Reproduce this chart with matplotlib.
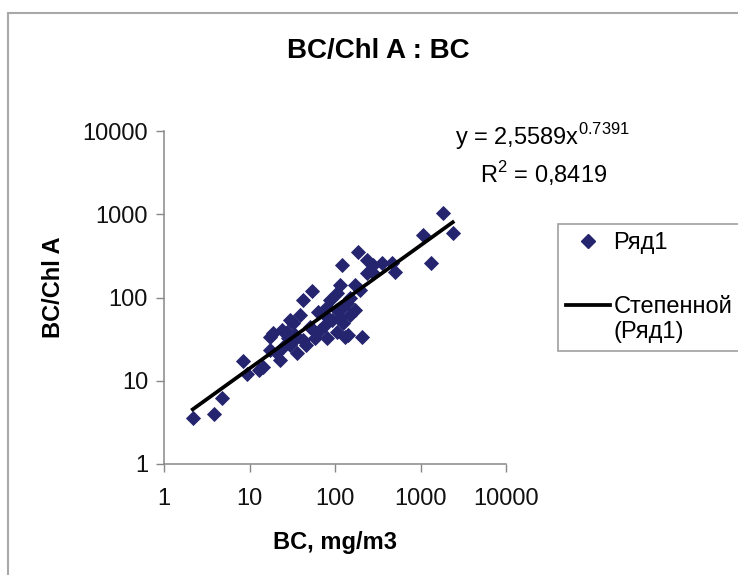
import numpy as np
import matplotlib
matplotlib.use("Agg")
import matplotlib.pyplot as plt
from matplotlib.lines import Line2D
from matplotlib.patches import Rectangle
from matplotlib.legend_handler import HandlerLine2D

plt.rcParams['font.family'] = ['Liberation Sans', 'DejaVu Sans']
plt.rcParams['mathtext.fontset'] = 'custom'
plt.rcParams['mathtext.rm'] = 'Liberation Sans'

# BC, mg/m3
bc = [2.17, 3.88, 4.73, 8.46, 9.27, 12.9, 14.5, 17.6, 20.8, 19.0, 22.7, 23.8,
      24.9, 27.2, 29.8, 31.2, 32.5, 35.6, 42.6, 42.6, 51.0, 53.4, 58.3, 66.8,
      80.0, 80.0, 91.5, 104.7, 104.7, 104.7, 114.4, 114.4, 119.8, 125, 125,
      130.9, 137, 143, 149.8, 171.4, 187.4, 205, 234.8, 234.8, 280.5, 280.5,
      351.7, 460, 503, 1062, 1316, 1849, 2382, 39, 63.3, 76.4, 45.8, 150, 196,
      28.2, 17.4, 34.0, 76.4, 55.3, 87.4, 171, 29.8]
# BC/Chl A
ratio = [3.54, 3.95, 6.15, 17.4, 12.05, 13.5, 14.7, 33.8, 21.4, 37.2, 17.8,
         40.7, 25.6, 38.8, 53.7, 29.5, 49.0, 21.4, 93.3, 30.9, 44.6, 119.7,
         32.4, 40.7, 77.5, 32.4, 53.7, 112.3, 70.8, 38.8, 141, 56.2, 245.7,
         49.0, 77.5, 33.8, 85.2, 35.5, 97.8, 141, 355, 33.8, 282, 195.3, 245.7,
         195.3, 257.6, 257.6, 204, 563, 257.6, 1026, 591, 61.6, 67, 46.7, 26.9,
         61.6, 123, 32.6, 23.4, 35.5, 61.6, 40.7, 93.3, 70.8, 26.9]

# power trendline shown on the chart
coef_a = 2.5589
coef_b = 0.7391
r2 = 0.8419

ticks = [1, 10, 100, 1000, 10000]
tick_labels = ['1', '10', '100', '1000', '10000']

W, H = 738, 575
fig = plt.figure(figsize=(W / 100, H / 100), dpi=100)

# chart frame (Excel chart area border)
fig.patches.append(Rectangle((8 / W, -0.1), 1.2, 1 - 13 / H + 0.1,
                             transform=fig.transFigure, fill=False,
                             edgecolor='#a8a8a8', linewidth=1.5))

ax = fig.add_axes([164 / W, 1 - 464 / H, (506 - 164) / W, (464 - 131) / H])
ax.set_xscale('log')
ax.set_yscale('log')
ax.set_xlim(1, 10000)
ax.set_ylim(1, 10000)

navy = '#25256f'
ax.plot(bc, ratio, linestyle='none', marker='D', markersize=7.0,
        color=navy, markeredgewidth=0.6, zorder=3)

xs = np.geomspace(min(bc), max(bc), 50)
ax.plot(xs, coef_a * xs ** coef_b, color='black', linewidth=2.7, zorder=4)

ax.set_xticks(ticks)
ax.set_xticklabels(tick_labels)
ax.set_yticks(ticks)
ax.set_yticklabels(tick_labels)
ax.minorticks_off()
ax.tick_params(axis='both', direction='out', length=5.5, width=1,
               color='#888888', labelsize=17, labelcolor='#111111')
ax.tick_params(axis='x', pad=12)
ax.tick_params(axis='y', pad=6)
for s in ['top', 'right']:
    ax.spines[s].set_visible(False)
for s in ['left', 'bottom']:
    ax.spines[s].set_color('#888888')
    ax.spines[s].set_linewidth(1.1)

fig.text(378 / W, 1 - 51 / H, 'BC/Chl A : BC', ha='center', va='center',
         fontsize=20, fontweight='bold')
fig.text(335 / W, 1 - 542 / H, 'BC, mg/m3', ha='center', va='center',
         fontsize=17, fontweight='bold')
fig.text(53 / W, 1 - 287 / H, 'BC/Chl A', ha='center', va='center',
         rotation=90, fontsize=17, fontweight='bold')

fig.text(455 / W, 1 - 145 / H,
         'y = 2,5589x$^{\\mathregular{%s}}$' % coef_b,
         ha='left', va='baseline', fontsize=17)
fig.text(480 / W, 1 - 183 / H,
         'R$^{\\mathregular{2}}$ = ' + str(r2).replace('.', ','),
         ha='left', va='baseline', fontsize=17)


class TopLineHandler(HandlerLine2D):
    # put the legend line next to the first text line, as Excel does
    def create_artists(self, legend, orig_handle, xdescent, ydescent,
                       width, height, fontsize, trans):
        arts = super().create_artists(legend, orig_handle, xdescent, ydescent,
                                      width, height, fontsize, trans)
        for a in arts:
            a.set_ydata(np.asarray(a.get_ydata()) + 10.5)
        return arts


h_pts = Line2D([], [], linestyle='none', marker='D', markersize=7.5,
               color=navy)
h_line = Line2D([], [], color='black', linewidth=2.7)
leg = fig.legend([h_pts, h_line], ['Ряд1', 'Степенной\n(Ряд1)'],
                 loc='upper left', bbox_to_anchor=(558 / W, 1 - 224 / H),
                 borderaxespad=0, fontsize=17, labelspacing=1.75,
                 borderpad=0.35, handlelength=1.85, handletextpad=0.15,
                 fancybox=False, framealpha=1, edgecolor='#a0a0a0',
                 handler_map={h_line: TopLineHandler()})
leg.get_frame().set_linewidth(1.2)

fig.savefig('out.png', dpi=100)
